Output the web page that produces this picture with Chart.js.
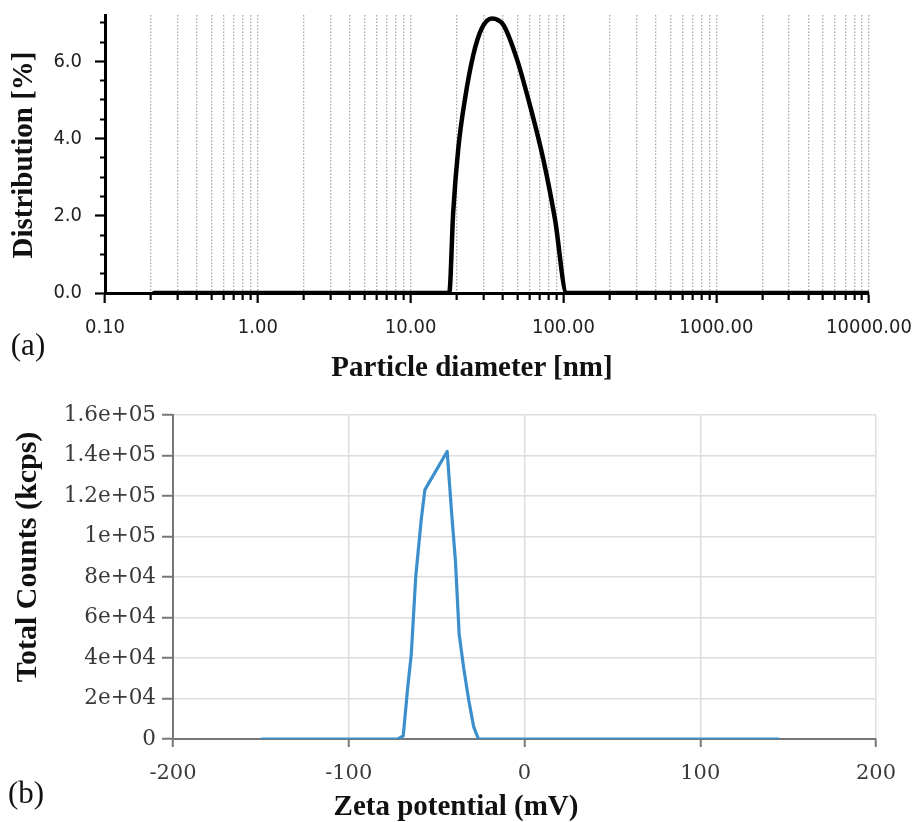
<!DOCTYPE html>
<html>
<head>
<meta charset="utf-8">
<script src="https://cdn.jsdelivr.net/npm/chart.js@4"></script>
<style>
  html, body { margin: 0; padding: 0; background: #fff; }
  #wrap { position: relative; width: 914px; height: 822px; background: #fff; overflow: hidden; }
  #ca { position: absolute; left: 0; top: 0; }
  #cb { position: absolute; left: 0; top: 390px; }
  .t { position: absolute; white-space: nowrap; color: #111; font-family: "Liberation Serif", "Times New Roman", serif; line-height: 1; }
  .b { font-weight: bold; }
  .v { transform: translate(-50%, -50%) rotate(-90deg); }
  .h { transform: translate(-50%, -50%); }
</style>
</head>
<body>
<div id="wrap">
  <canvas id="ca" width="914" height="360"></canvas>
  <canvas id="cb" width="914" height="432"></canvas>
  <div class="t b v" style="left:22px;top:155px;font-size:29px;">Distribution [%]</div>
  <div class="t b h" style="left:472px;top:366px;font-size:29px;">Particle diameter [nm]</div>
  <div class="t h" style="left:28px;top:344px;font-size:31px;">(a)</div>
  <div class="t b v" style="left:26px;top:557px;font-size:30px;">Total Counts (kcps)</div>
  <div class="t b h" style="left:456px;top:805px;font-size:29px;">Zeta potential (mV)</div>
  <div class="t h" style="left:26px;top:792px;font-size:31px;">(b)</div>
</div>
<script>
// ---- Panel (a): particle size distribution ----
const sizeNm  = [0.21, 17.9, 19.0, 20.5, 22.7, 25.7, 29.2, 34.0, 40.5, 49.5, 60.4, 73.8, 88.1, 105, 10000];
const distPct = [0,    0,    2.09, 3.73, 5.03, 6.16, 6.85, 7.11, 6.94, 6.07, 4.86, 3.47, 1.91, 0,   0];
const sizeDecades = [0.1, 1, 10, 100, 1000, 10000];
const sizeDecadeLabels = ["0.10", "1.00", "10.00", "100.00", "1000.00", "10000.00"];
const distMajorTicks = [0, 2, 4, 6];
const distMajorLabels = ["0.0", "2.0", "4.0", "6.0"];

// ---- Panel (b): zeta potential ----
const zetaMv = [-150, -72, -69, -66.5, -64.4, -61.9, -58.8, -56.7, -44, -41.5, -39.3, -37.2, -34.6, -31.7, -28.9, -26.2, 145];
const countsKcps = [0, 0, 1500, 25000, 42000, 80000, 108000, 123000, 142000, 112000, 88000, 52000, 35000, 19000, 6000, 0, 0];
const zetaTicks = [-200, -100, 0, 100, 200];
const countTicks = [0, 20000, 40000, 60000, 80000, 100000, 120000, 140000, 160000];
const countLabels = ["0", "2e+04", "4e+04", "6e+04", "8e+04", "1e+05", "1.2e+05", "1.4e+05", "1.6e+05"];

Chart.defaults.animation = false;

// all log ticks 0.1 .. 10000
const logTicks = [];
sizeDecades.forEach((d, i) => {
  if (i === sizeDecades.length - 1) { logTicks.push(d); return; }
  for (let m = 1; m <= 9; m++) logTicks.push(+(d * m).toPrecision(6));
});
const isDecade = v => sizeDecades.some(d => Math.abs(d - v) / d < 1e-9);

const distTicks = [];
for (let v = 0; v <= 7.0001; v += 0.5) distTicks.push(+v.toFixed(1));
const isDistMajor = v => distMajorTicks.includes(v);

const sansTick = '"DejaVu Sans Condensed", "Liberation Sans", sans-serif';

new Chart(document.getElementById('ca'), {
  type: 'line',
  data: {
    datasets: [{
      data: sizeNm.map((x, i) => ({ x, y: distPct[i] })),
      borderColor: '#000',
      borderWidth: 4.5,
      pointRadius: 0,
      cubicInterpolationMode: 'monotone',
      borderJoinStyle: 'round',
      borderCapStyle: 'round',
      fill: false
    }]
  },
  options: {
    responsive: false,
    maintainAspectRatio: false,
    plugins: { legend: { display: false }, tooltip: { enabled: false } },
    layout: { padding: { left: 45, right: 45, top: 15, bottom: 27 } },
    scales: {
      x: {
        type: 'logarithmic',
        min: 0.1, max: 10000,
        afterBuildTicks: s => { s.ticks = logTicks.map(v => ({ value: v })); },
        afterFit: s => { s.height = 40; s.paddingLeft = 0; s.paddingRight = 0; },
        ticks: {
          autoSkip: false, maxRotation: 0, minRotation: 0,
          padding: 13,
          color: '#222',
          font: { family: sansTick, size: 20 },
          callback: (v) => { const i = sizeDecades.findIndex(d => Math.abs(d - v) / d < 1e-9); return i >= 0 ? sizeDecadeLabels[i] : ''; }
        },
        grid: {
          drawOnChartArea: true,
          color: c => (c.tick && Math.abs(c.tick.value - 0.1) < 1e-9) ? 'rgba(0,0,0,0)' : 'rgba(140,140,140,0.75)',
          lineWidth: 1.3,
          tickLength: 10,
          tickColor: '#000',
          tickWidth: 2.2,
          tickBorderDash: c => (c.tick && isDecade(c.tick.value)) ? [] : [5, 100]
        },
        border: { display: true, color: '#000', width: 3, dash: [1.5, 1.8] }
      },
      y: {
        type: 'linear',
        min: 0, max: 7.2,
        afterBuildTicks: s => { s.ticks = distTicks.map(v => ({ value: v })); },
        afterFit: s => { s.width = 60; s.paddingTop = 0; s.paddingBottom = 0; },
        ticks: {
          autoSkip: false,
          padding: 13,
          color: '#222',
          font: { family: sansTick, size: 20 },
          callback: v => { const i = distMajorTicks.indexOf(v); return i >= 0 ? distMajorLabels[i] : ''; }
        },
        grid: {
          drawOnChartArea: false,
          tickLength: 10,
          tickColor: '#000',
          tickWidth: 2.2,
          tickBorderDash: c => (c.tick && isDistMajor(c.tick.value)) ? [] : [0, 5, 5, 100]
        },
        border: { display: true, color: '#000', width: 3 }
      }
    }
  }
});

new Chart(document.getElementById('cb'), {
  type: 'line',
  data: {
    datasets: [{
      data: zetaMv.map((x, i) => ({ x, y: countsKcps[i] })),
      borderColor: '#3b8fcc',
      borderWidth: 3.2,
      pointRadius: 0,
      tension: 0,
      borderJoinStyle: 'round',
      fill: false
    }]
  },
  options: {
    responsive: false,
    maintainAspectRatio: false,
    plugins: { legend: { display: false }, tooltip: { enabled: false } },
    layout: { padding: { left: 48, right: 38, top: 25, bottom: 43 } },
    scales: {
      x: {
        type: 'linear',
        min: -200, max: 200,
        afterBuildTicks: s => { s.ticks = zetaTicks.map(v => ({ value: v })); },
        afterFit: s => { s.height = 40; },
        ticks: {
          autoSkip: false, maxRotation: 0,
          padding: 14,
          color: '#3a3a3a',
          font: { family: 'DejaVu Serif', size: 21 },
          callback: v => String(v)
        },
        grid: {
          color: '#dedede',
          lineWidth: 1.5,
          tickLength: 8,
          tickColor: '#777',
          tickWidth: 2
        },
        border: { display: true, color: '#777', width: 2 }
      },
      y: {
        type: 'linear',
        min: 0, max: 160000,
        afterBuildTicks: s => { s.ticks = countTicks.map(v => ({ value: v })); },
        afterFit: s => { s.width = 125; },
        ticks: {
          autoSkip: false,
          padding: 6,
          color: '#3a3a3a',
          font: { family: 'DejaVu Serif', size: 21.5 },
          callback: v => { const i = countTicks.indexOf(v); return i >= 0 ? countLabels[i] : ''; }
        },
        grid: {
          color: '#dedede',
          lineWidth: 1.5,
          tickLength: 11,
          tickColor: '#777',
          tickWidth: 2
        },
        border: { display: true, color: '#777', width: 2 }
      }
    }
  }
});
</script>
</body>
</html>
